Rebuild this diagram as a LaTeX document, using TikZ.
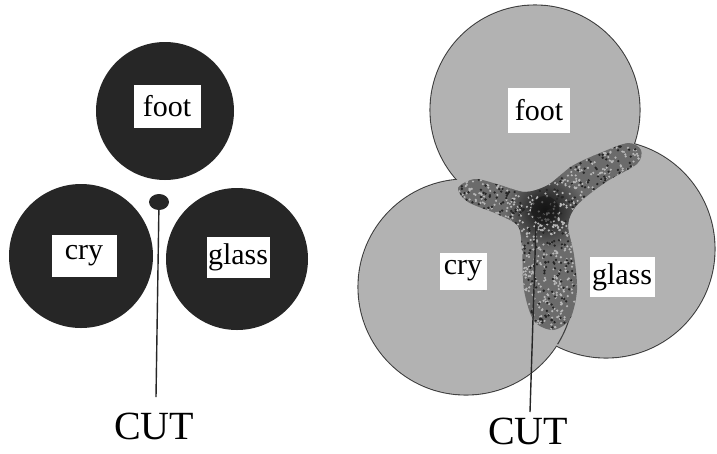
\documentclass[tikz,border=0pt]{standalone}
\usepackage{fontspec}
\setmainfont{Liberation Serif}
\usetikzlibrary{shapes.geometric}
\begin{document}
\begin{tikzpicture}[x=1pt,y=-1pt,
  darkdisc/.style={circle, fill=black!85, inner sep=0pt},
  greydisc/.style={circle, fill=black!30, draw=black!75, line width=1.1pt, inner sep=0pt},
  wordbox/.style={fill=white, inner sep=0pt, font=\fontsize{30}{30}\selectfont},
  cutlabel/.style={font=\fontsize{40}{40}\selectfont, inner sep=0pt},
  leader/.style={line width=1.4pt, draw=black!85}]
\useasboundingbox (0,0) rectangle (717,453);
\fill[white] (0,0) rectangle (717,453);

% ---------- left panel ----------
\node[darkdisc, minimum size=138pt] (footL) at (165,111) {};
\node[darkdisc, minimum size=144pt] (cryL) at (81,256) {};
\node[darkdisc, minimum size=142pt] (glassL) at (237,259) {};
\node[wordbox, minimum width=67pt, minimum height=43pt] (tfootL) at (167,106) {foot};
\node[wordbox, minimum width=65pt, minimum height=42pt] (tcryL) at (84,256) {cry};
\node[wordbox, minimum width=63pt, minimum height=41pt] (tglassL) at (238,257) {glass};
\coordinate (endL) at (156,397);
\node[fill=black!85, ellipse, minimum width=20pt, minimum height=16pt, inner sep=0pt] (dotL) at (159,202) {};
\draw[leader] (dotL.center) -- (endL);
\node[cutlabel] (cutL) at (154,426) {CUT};

% ---------- right panel ----------
\node[greydisc, minimum size=210pt] (footR) at (535,110) {};
\node[greydisc, minimum size=216pt] (cryR) at (466,287) {};
\node[greydisc, minimum size=218pt] (glassR) at (606,249) {};
\fill[black!30] (footR.center) circle[radius=104.4pt];
\fill[black!30] (cryR.center) circle[radius=107.4pt];
\fill[black!30] (glassR.center) circle[radius=108.4pt];
\draw[black!75, line width=1.1pt] plot[domain=-5:32, samples=25] ({466+108*cos(\x)},{287+108*sin(\x)});

% speckled blob
\begin{scope}
\clip plot[smooth cycle] coordinates {(458,188) (475,179) (500,185) (525,192) (548,185)
  (572,166) (600,153) (628,143) (641,150) (637,164) (606,182) (577,205) (568,225)
  (574,255) (577,290) (570,319) (553,330) (534,321) (524,290) (522,250) (518,226)
  (497,214) (468,202)};
\fill[black!58] (440,130) rectangle (660,340);
\shade[inner color=black!95, outer color=black!58] (545,210) circle[radius=40pt];
\pgfmathsetseed{7}
\foreach \i in {1,...,1500} {
  \pgfmathsetmacro\px{455+190*rnd}
  \pgfmathsetmacro\py{140+195*rnd}
  \fill[black!28] (\px,\py) circle[radius=1.2pt];
}
\foreach \i in {1,...,700} {
  \pgfmathsetmacro\px{455+190*rnd}
  \pgfmathsetmacro\py{140+195*rnd}
  \fill[black!85] (\px,\py) circle[radius=1.3pt];
}
\shade[inner color=black!90, outer color=black!90, opacity=0.6] (545,210) circle[radius=14pt];
\end{scope}

\node[wordbox, minimum width=62pt, minimum height=45pt] (tfootR) at (539,110) {foot};
\node[wordbox, minimum width=47pt, minimum height=37pt] (tcryR) at (463,271) {cry};
\node[wordbox, minimum width=65pt, minimum height=40pt] (tglassR) at (622,277) {glass};
\coordinate (hubR) at (536,225);
\coordinate (endR) at (530,412);
\draw[leader] (hubR) -- (endR);
\node[cutlabel] (cutR) at (528,431) {CUT};
\end{tikzpicture}
\end{document}
